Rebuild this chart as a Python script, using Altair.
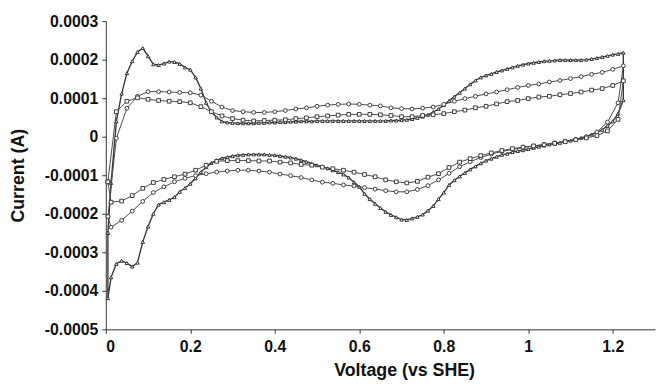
import altair as alt
import pandas as pd

# ---------------- data (currents in units of 1e-4 A) ----------------
V_FWD = [0.005, 0.025, 0.05, 0.075, 0.1, 0.125, 0.15, 0.175, 0.2, 0.225,
         0.25, 0.275, 0.3, 0.325, 0.35, 0.375, 0.4, 0.425, 0.45, 0.475,
         0.5, 0.525, 0.55, 0.575, 0.6, 0.625, 0.65, 0.675, 0.7, 0.725,
         0.75, 0.775, 0.8, 0.825, 0.85, 0.875, 0.9, 0.925, 0.95, 0.975,
         1.0, 1.025, 1.05, 1.075, 1.1, 1.125, 1.15, 1.175, 1.2, 1.225]

V_REV = [1.2125, 1.1875, 1.1625, 1.1375, 1.1125, 1.0875, 1.0625, 1.0375, 1.0125, 0.9875,
         0.9625, 0.9375, 0.9125, 0.8875, 0.8625, 0.8375, 0.8125, 0.7875, 0.7625, 0.7375,
         0.7125, 0.6875, 0.6625, 0.6375, 0.6125, 0.5875, 0.5625, 0.5375, 0.5125, 0.4875,
         0.4625, 0.4375, 0.4125, 0.3875, 0.3625, 0.3375, 0.3125, 0.2875, 0.2625, 0.2375,
         0.2125, 0.1875, 0.1625, 0.1375, 0.1125, 0.0875, 0.0625, 0.0375, 0.0125]

CIRC_FWD = [-2.07, -0.04, 0.74, 1.05, 1.17, 1.17, 1.16, 1.15, 1.14, 1.08,
            0.92, 0.77, 0.68, 0.65, 0.63, 0.63, 0.65, 0.68, 0.72, 0.75,
            0.79, 0.82, 0.84, 0.85, 0.84, 0.82, 0.80, 0.75, 0.73, 0.72,
            0.74, 0.77, 0.84, 0.92, 0.99, 1.05, 1.11, 1.16, 1.22, 1.28,
            1.33, 1.37, 1.42, 1.46, 1.51, 1.56, 1.62, 1.67, 1.75, 1.84]

CIRC_REV = [0.88, 0.38, 0.12, 0.0, -0.07, -0.12, -0.16, -0.20, -0.24, -0.28,
            -0.33, -0.38, -0.45, -0.54, -0.65, -0.78, -0.95, -1.12, -1.27, -1.37,
            -1.43, -1.43, -1.40, -1.36, -1.32, -1.28, -1.25, -1.21, -1.18, -1.12,
            -1.06, -1.01, -0.97, -0.92, -0.89, -0.87, -0.87, -0.89, -0.92, -0.96,
            -1.01, -1.08, -1.17, -1.30, -1.45, -1.68, -1.93, -2.17, -2.35]

SQ_FWD = [-1.17, 0.65, 0.92, 1.01, 0.97, 0.94, 0.92, 0.91, 0.88, 0.78,
          0.65, 0.54, 0.47, 0.43, 0.41, 0.42, 0.43, 0.44, 0.47, 0.49,
          0.52, 0.54, 0.56, 0.58, 0.58, 0.58, 0.57, 0.55, 0.52, 0.52,
          0.55, 0.57, 0.60, 0.65, 0.69, 0.75, 0.79, 0.85, 0.91, 0.94,
          0.99, 1.03, 1.05, 1.09, 1.12, 1.16, 1.21, 1.25, 1.33, 1.45]

SQ_REV = [0.45, 0.15, 0.03, -0.03, -0.08, -0.13, -0.17, -0.21, -0.24, -0.27,
          -0.31, -0.36, -0.42, -0.49, -0.57, -0.66, -0.80, -0.96, -1.05, -1.16,
          -1.20, -1.17, -1.12, -1.04, -0.98, -0.92, -0.87, -0.83, -0.79, -0.74,
          -0.72, -0.68, -0.66, -0.63, -0.63, -0.62, -0.62, -0.62, -0.64, -0.74,
          -0.87, -0.97, -1.04, -1.11, -1.19, -1.34, -1.53, -1.67, -1.70]

TRI_V = [0.005, 0.0125, 0.025, 0.0375, 0.05, 0.0625, 0.075, 0.0875, 0.1, 0.1125,
         0.125, 0.1375, 0.15, 0.1625, 0.175, 0.1875, 0.2, 0.2125, 0.225, 0.2375,
         0.25, 0.2625, 0.275, 0.2875, 0.3, 0.3125, 0.325, 0.3375, 0.35, 0.3625,
         0.375, 0.3875, 0.4, 0.4125, 0.425, 0.4375, 0.45, 0.4625, 0.475, 0.4875,
         0.5, 0.5125, 0.525, 0.5375, 0.55, 0.5625, 0.575, 0.5875, 0.6, 0.6125,
         0.625, 0.6375, 0.65, 0.6625, 0.675, 0.6875, 0.7, 0.7125, 0.725, 0.7375,
         0.75, 0.7625, 0.775, 0.7875, 0.8, 0.8125, 0.825, 0.8375, 0.85, 0.8625,
         0.875, 0.8875, 0.9, 0.9125, 0.925, 0.9375, 0.95, 0.9625, 0.975, 0.9875,
         1.0, 1.0125, 1.025, 1.0375, 1.05, 1.0625, 1.075, 1.0875, 1.1, 1.1125,
         1.125, 1.1375, 1.15, 1.1625, 1.175, 1.1875, 1.2, 1.2125, 1.225]

# anodic (forward) sweep, listed along TRI_V
TRI_FWD = [-2.49, -1.20, 0.40, 1.12, 1.65, 1.96, 2.20, 2.30, 2.09, 1.88,
           1.86, 1.90, 1.95, 1.94, 1.89, 1.80, 1.74, 1.54, 1.25, 0.88,
           0.64, 0.50, 0.40, 0.37, 0.36, 0.35, 0.35, 0.35, 0.35, 0.36,
           0.36, 0.37, 0.37, 0.38, 0.38, 0.39, 0.39, 0.40, 0.40, 0.40,
           0.41, 0.41, 0.41, 0.41, 0.41, 0.41, 0.41, 0.41, 0.41, 0.41,
           0.41, 0.41, 0.41, 0.41, 0.42, 0.42, 0.43, 0.44, 0.46, 0.49,
           0.52, 0.57, 0.64, 0.72, 0.82, 0.93, 1.04, 1.14, 1.25, 1.36,
           1.46, 1.54, 1.59, 1.63, 1.68, 1.72, 1.76, 1.80, 1.84, 1.87,
           1.90, 1.92, 1.94, 1.96, 1.97, 1.98, 1.99, 1.99, 1.99, 1.99,
           1.99, 2.00, 2.02, 2.04, 2.07, 2.10, 2.13, 2.15, 2.18]

# cathodic (reverse) sweep, also listed along TRI_V (drawn from high V to low V)
TRI_REV = [-4.19, -3.65, -3.30, -3.22, -3.28, -3.37, -3.27, -2.73, -2.33, -2.00,
           -1.76, -1.70, -1.64, -1.57, -1.43, -1.33, -1.22, -1.08, -0.92, -0.79,
           -0.68, -0.61, -0.56, -0.53, -0.50, -0.48, -0.47, -0.46, -0.46, -0.46,
           -0.46, -0.47, -0.48, -0.50, -0.52, -0.54, -0.57, -0.61, -0.65, -0.70,
           -0.74, -0.78, -0.82, -0.87, -0.92, -0.98, -1.06, -1.18, -1.30, -1.48,
           -1.62, -1.74, -1.85, -1.95, -2.03, -2.09, -2.15, -2.16, -2.12, -2.08,
           -2.02, -1.92, -1.80, -1.62, -1.45, -1.25, -1.13, -1.03, -0.94, -0.85,
           -0.77, -0.69, -0.62, -0.57, -0.52, -0.47, -0.44, -0.40, -0.37, -0.35,
           -0.32, -0.29, -0.26, -0.23, -0.20, -0.18, -0.16, -0.13, -0.10, -0.07,
           -0.03, 0.01, 0.06, 0.11, 0.18, 0.28, 0.40, 0.60, 0.95]

X_TICKS = [0, 0.2, 0.4, 0.6, 0.8, 1, 1.2]
Y_TICKS = [-0.0005, -0.0004, -0.0003, -0.0002, -0.0001, 0, 0.0001, 0.0002, 0.0003]

assert len(V_FWD) == len(CIRC_FWD) == len(SQ_FWD)
assert len(V_REV) == len(CIRC_REV) == len(SQ_REV)
assert len(TRI_V) == len(TRI_FWD) == len(TRI_REV)

UNIT = 1e-4
rows = []


def add_loop(name, v_f, i_f, v_r, i_r):
    seq = list(zip(v_f, i_f)) + list(zip(v_r, i_r))
    seq.append(seq[0])  # close the cycle back to the start point
    for k, (v, c) in enumerate(seq):
        rows.append({"series": name, "V": v, "I": c * UNIT, "k": k})


add_loop("tri", TRI_V, TRI_FWD, TRI_V[::-1], TRI_REV[::-1])
add_loop("circ", V_FWD, CIRC_FWD, V_REV, CIRC_REV)
add_loop("sq", V_FWD, SQ_FWD, V_REV, SQ_REV)
df = pd.DataFrame(rows)

FONT = "Liberation Sans"

x_enc = alt.X(
    "V:Q",
    scale=alt.Scale(domain=[0, 1.3], nice=False, zero=False),
    axis=alt.Axis(
        values=X_TICKS, format=".1~f", title="Voltage (vs SHE)", grid=False,
        titleX=302, titleY=47, titleBaseline="alphabetic", titleAlign="center",
        labelPadding=5,
    ),
)
y_enc = alt.Y(
    "I:Q",
    scale=alt.Scale(domain=[-0.0005, 0.0003], nice=False, zero=False),
    axis=alt.Axis(
        values=Y_TICKS,
        labelExpr="replace(format(datum.value, '.4~f'), '\u2212', '-')",
        title="Current (A)", grid=False,
        titleX=-88, titleY=156, titleAngle=-90, titleBaseline="middle",
        titleAlign="center", labelPadding=4,
    ),
)

base = alt.Chart(df)
layers = []
STYLE = [
    # name, shape, size, line colour, line width, marker stroke
    ("tri", "triangle-up", 12, "#3a3a3a", 1.4, "#333333"),
    ("circ", "circle", 15, "#4a4a4a", 1.0, "#3c3c3c"),
    ("sq", "square", 14, "#4a4a4a", 1.0, "#3c3c3c"),
]
for name, shape, size, lcol, lw, mcol in STYLE:
    sub = base.transform_filter(alt.datum.series == name)
    layers.append(
        sub.mark_line(color=lcol, strokeWidth=lw).encode(x=x_enc, y=y_enc, order="k:Q")
    )
    layers.append(
        sub.mark_point(shape=shape, size=size, filled=True, fill="white",
                       stroke=mcol, strokeWidth=1, opacity=1)
        .encode(x=x_enc, y=y_enc)
    )

chart = (
    alt.layer(*layers)
    .properties(
        width=556, height=312,
        autosize=alt.AutoSizeParams(type="none"),
        padding={"left": 99, "top": 11, "right": 1, "bottom": 50},
    )
    .configure_view(strokeWidth=0)
    .configure_axis(
        domainColor="#333333", tickColor="#333333", tickSize=4, domainWidth=1,
        labelFont=FONT, labelFontSize=16, labelFontWeight="bold", labelColor="#111111",
        titleFont=FONT, titleFontSize=18, titleFontWeight="bold", titleColor="#111111",
    )
)

chart.save("out.html", embed_options={"renderer": "svg", "actions": False})
